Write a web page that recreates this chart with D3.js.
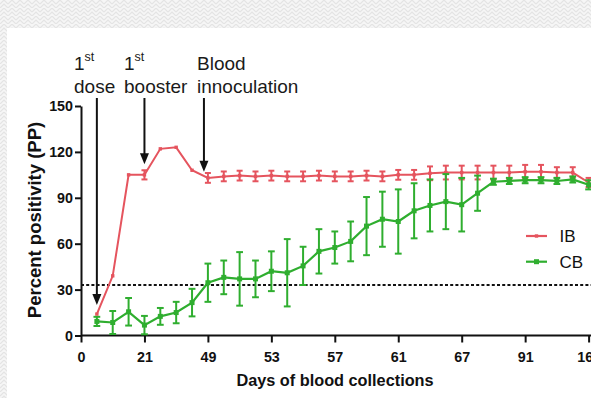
<!DOCTYPE html>
<html>
<head>
<meta charset="utf-8">
<script src="https://cdn.jsdelivr.net/npm/d3@7"></script>
<style>
  html, body { margin: 0; padding: 0; background: #fff; }
  svg { display: block; font-family: "Liberation Sans", Arial, Helvetica, sans-serif; }
</style>
</head>
<body>
<svg id="chart" width="591" height="398"></svg>
<script>
// Sampling points along the x axis (one every collection), labelled every 4th
const tickIndex = [0, 4, 8, 12, 16, 20, 24, 28, 32];
const tickLabels = ["0", "21", "49", "53", "57", "61", "67", "91", "161"];
const sampleIndex = d3.range(1, 33);

// IB group: mean percent positivity and error (±)
const ibMean = [14, 39, 105, 105, 122, 123, 108, 103, 104, 104.5, 104, 104.5, 104, 104, 104.5, 104,
                104, 104.5, 104, 105, 105, 106, 106.5, 106.5, 106.5, 106.5, 106.5, 107, 107, 106.5, 106.5, 100];
const ibErr  = [0, 0, 0, 3, 0, 0, 0, 3.2, 3.2, 3.2, 3.2, 3.2, 3.2, 3.2, 3.2, 3.2,
                3.2, 3.2, 3.2, 3.2, 3.2, 4.5, 4.5, 4.5, 4.5, 4.5, 4.5, 4.5, 4.5, 3.5, 3.5, 3];

// CB group: mean percent positivity and error (±)
const cbMean = [9.2, 8.5, 15.5, 6.8, 12.5, 15, 21.5, 34.5, 38, 37, 37, 42, 41, 45.5, 55, 57.5,
                61.5, 71.5, 76, 74.5, 81.5, 85, 87.5, 85.5, 93, 100.5, 101, 101.5, 101.5, 101, 102, 98.5];
const cbErr  = [3, 7.5, 9, 6, 5.5, 7, 9, 12.5, 11, 17.5, 12, 13, 22, 12.5, 14.5, 10.5,
                13, 19, 18, 21, 18, 17, 18, 17.5, 11.5, 2, 2, 2, 2, 2, 2, 3];

const yTicks = [0, 30, 60, 90, 120, 150];
const cutoff = 33;

// Event annotations: sample position, text lines and arrow tip value
const events = [
  { idx: 1,   lines: [["1", "st"], ["dose"]],          tip: 20,  tx: 74 },
  { idx: 4,   lines: [["1", "st"], ["booster"]],       tip: 112, tx: 124 },
  { idx: 7.75, lines: [["Blood"], ["innoculation"]],   tip: 107, tx: 197 }
];

const series = [
  { name: "IB", mean: ibMean, err: ibErr, color: "#e5545e", size: 3.4, cap: 3, width: 2 },
  { name: "CB", mean: cbMean, err: cbErr, color: "#2fae2f", size: 5, cap: 3.4, width: 2.2 }
];

const svg = d3.select("#chart");
const W = 591, H = 398;

// Page backdrop: patterned strip around the white panel
const defs = svg.append("defs");
const pat = defs.append("pattern").attr("id", "zig").attr("patternUnits", "userSpaceOnUse")
  .attr("width", 8).attr("height", 8);
pat.append("rect").attr("width", 8).attr("height", 8).attr("fill", "#f6f6f6");
pat.append("path").attr("d", "M0,4 L4,0 L8,4 M0,8 L4,4 L8,8")
  .attr("fill", "none").attr("stroke", "#e4e4e4").attr("stroke-width", 1.2);
svg.append("rect").attr("width", W).attr("height", H).attr("fill", "url(#zig)");
svg.append("rect").attr("x", 7).attr("y", 28).attr("width", W - 7).attr("height", H - 28).attr("fill", "#fff");

const x = d3.scaleLinear().domain([0, 32]).range([81, 588.6]);
const y = d3.scaleLinear().domain([0, 150]).range([335.5, 106]);

// Axes
const yAxis = svg.append("g").attr("transform", `translate(${x(0)},0)`)
  .call(d3.axisLeft(y).tickValues(yTicks).tickSize(6).tickSizeOuter(0).tickPadding(2));
const xAxis = svg.append("g").attr("transform", `translate(0,${y(0)})`)
  .call(d3.axisBottom(x).tickValues(tickIndex).tickFormat((d, i) => tickLabels[i])
    .tickSize(7).tickSizeOuter(0).tickPadding(9.5));
xAxis.select(".domain").attr("d", `M${x(0)},0H${W + 10}`);
[xAxis, yAxis].forEach(g => {
  g.selectAll(".domain, .tick line").attr("stroke", "#111").attr("stroke-width", 2);
  g.selectAll(".tick text").attr("fill", "#111").attr("font-weight", "bold")
    .attr("font-size", "14.3px").attr("font-family", "'Liberation Sans', Arial, sans-serif");
});

// Cut-off line
svg.append("line").attr("x1", x(0)).attr("x2", W + 5)
  .attr("y1", y(cutoff)).attr("y2", y(cutoff))
  .attr("stroke", "#111").attr("stroke-width", 2).attr("stroke-dasharray", "3,2.2");

// Series: error bars, line, markers
series.forEach(s => {
  const pts = sampleIndex.map((k, i) => ({ k, v: s.mean[i], e: s.err[i] }));
  const g = svg.append("g");
  const eb = g.selectAll("g.eb").data(pts.filter(p => p.e > 0)).join("g");
  eb.append("line").attr("x1", p => x(p.k)).attr("x2", p => x(p.k))
    .attr("y1", p => y(p.v - p.e)).attr("y2", p => y(p.v + p.e))
    .attr("stroke", s.color).attr("stroke-width", 2);
  [-1, 1].forEach(sg => {
    eb.append("line").attr("x1", p => x(p.k) - s.cap).attr("x2", p => x(p.k) + s.cap)
      .attr("y1", p => y(p.v + sg * p.e)).attr("y2", p => y(p.v + sg * p.e))
      .attr("stroke", s.color).attr("stroke-width", 2);
  });
  g.append("path").datum(pts)
    .attr("d", d3.line().x(p => x(p.k)).y(p => y(p.v)))
    .attr("fill", "none").attr("stroke", s.color).attr("stroke-width", s.width);
  g.selectAll("rect").data(pts).join("rect")
    .attr("x", p => x(p.k) - s.size / 2).attr("y", p => y(p.v) - s.size / 2)
    .attr("width", s.size).attr("height", s.size).attr("fill", s.color);
});

// Arrows and event labels
events.forEach(ev => {
  const ax = x(ev.idx), tipY = y(ev.tip);
  svg.append("line").attr("x1", ax).attr("x2", ax).attr("y1", 98).attr("y2", tipY - 8)
    .attr("stroke", "#111").attr("stroke-width", 2);
  svg.append("path").attr("d", `M${ax - 4.5},${tipY - 11}L${ax + 4.5},${tipY - 11}L${ax},${tipY}Z`)
    .attr("fill", "#111");
  ev.lines.forEach((ln, li) => {
    const t = svg.append("text").attr("x", ev.tx).attr("y", 70 + li * 22.5)
      .attr("font-size", "19px").attr("fill", "#1a1a1a");
    t.append("tspan").text(ln[0]);
    if (ln[1]) t.append("tspan").attr("font-size", "12.5px").attr("dy", -9).text(ln[1]);
  });
});

// Legend
series.forEach((s, i) => {
  const ly = 236 + i * 25.7;
  svg.append("line").attr("x1", 526).attr("x2", 547).attr("y1", ly).attr("y2", ly)
    .attr("stroke", s.color).attr("stroke-width", 2.2);
  svg.append("rect").attr("x", 536.5 - s.size / 2).attr("y", ly - s.size / 2)
    .attr("width", s.size).attr("height", s.size).attr("fill", s.color);
  svg.append("text").attr("x", 559.5).attr("y", ly + 6.2).attr("font-size", "17px")
    .attr("fill", "#111").text(s.name);
});

// Axis titles
svg.append("text").attr("x", 335).attr("y", 386).attr("text-anchor", "middle")
  .attr("font-size", "16.3px").attr("font-weight", "bold").attr("fill", "#111")
  .text("Days of blood collections");
svg.append("text").attr("transform", "translate(41,220) rotate(-90)").attr("text-anchor", "middle")
  .attr("font-size", "18.5px").attr("font-weight", "bold").attr("fill", "#111")
  .text("Percent positivity (PP)");
</script>
</body>
</html>
